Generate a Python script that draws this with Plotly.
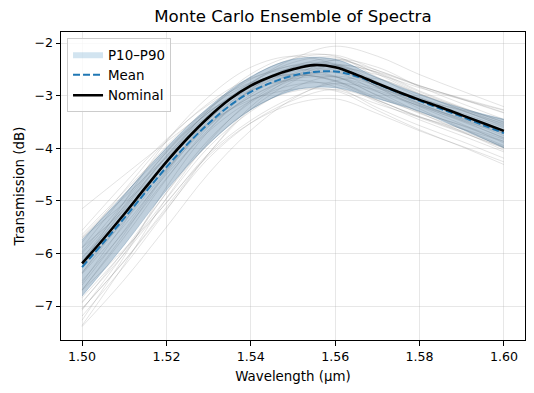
import plotly.graph_objects as go

# ---------------- data ----------------
wl11 = [1.50, 1.51, 1.52, 1.53, 1.54, 1.55, 1.56, 1.57, 1.58, 1.59, 1.60]
wl21 = [1.500, 1.505, 1.510, 1.515, 1.520, 1.525, 1.530, 1.535, 1.540, 1.545, 1.550,
        1.555, 1.560, 1.565, 1.570, 1.575, 1.580, 1.585, 1.590, 1.595, 1.600]

nominal = [-6.19, -5.73, -5.25, -4.75, -4.26, -3.81, -3.41, -3.07, -2.81, -2.63, -2.50,
           -2.42, -2.46, -2.60, -2.77, -2.93, -3.08, -3.22, -3.37, -3.52, -3.67]
mean = [-6.26, -5.80, -5.33, -4.84, -4.36, -3.92, -3.53, -3.19, -2.93, -2.75, -2.62,
        -2.55, -2.54, -2.63, -2.78, -2.94, -3.10, -3.25, -3.40, -3.56, -3.71]

p90 = [-5.74, -4.88, -3.99, -3.22, -2.64, -2.31, -2.31, -2.66, -2.98, -3.24, -3.45]
p10 = [-6.81, -5.84, -4.80, -3.92, -3.27, -2.90, -2.85, -3.06, -3.30, -3.64, -3.99]

ensemble = [
    [-5.79, -4.80, -3.86, -3.14, -2.67, -2.50, -2.63, -2.99, -3.30, -3.57, -3.87],
    [-6.84, -5.95, -4.96, -3.98, -3.30, -2.85, -2.63, -2.82, -3.15, -3.44, -3.72],
    [-6.52, -5.58, -4.57, -3.64, -2.98, -2.58, -2.43, -2.66, -2.97, -3.23, -3.50],
    [-5.97, -5.02, -4.08, -3.32, -2.80, -2.58, -2.64, -3.00, -3.34, -3.63, -3.95],
    [-6.14, -5.17, -4.15, -3.28, -2.65, -2.30, -2.23, -2.52, -2.81, -3.06, -3.32],
    [-6.39, -5.47, -4.50, -3.68, -3.10, -2.80, -2.78, -3.12, -3.46, -3.76, -4.07],
    [-6.25, -5.39, -4.42, -3.43, -2.76, -2.30, -2.06, -2.25, -2.60, -2.91, -3.21],
    [-6.92, -6.01, -5.03, -4.14, -3.52, -3.16, -3.06, -3.34, -3.67, -3.96, -4.26],
    [-5.15, -4.51, -3.88, -3.29, -2.89, -2.68, -2.65, -2.86, -3.08, -3.27, -3.46],
    [-7.39, -6.50, -5.50, -4.48, -3.66, -3.06, -2.72, -2.68, -2.97, -3.28, -3.57],
    [-6.70, -5.63, -4.47, -3.52, -2.83, -2.46, -2.41, -2.78, -3.15, -3.47, -3.81],
    [-5.68, -4.87, -4.05, -3.32, -2.81, -2.54, -2.51, -2.78, -3.05, -3.29, -3.53],
    [-6.69, -5.69, -4.59, -3.59, -2.88, -2.45, -2.30, -2.57, -2.93, -3.24, -3.55],
    [-6.17, -5.14, -4.14, -3.36, -2.83, -2.61, -2.71, -3.08, -3.40, -3.69, -4.00],
    [-7.05, -6.14, -5.12, -4.10, -3.26, -2.73, -2.42, -2.56, -2.91, -3.22, -3.51],
    [-5.89, -4.90, -3.96, -3.24, -2.77, -2.60, -2.73, -3.09, -3.40, -3.67, -3.97],
    [-6.56, -5.42, -4.23, -3.27, -2.59, -2.25, -2.25, -2.65, -3.03, -3.36, -3.71],
    [-5.70, -4.93, -4.18, -3.52, -3.08, -2.88, -2.89, -3.16, -3.41, -3.63, -3.87],
    [-6.07, -5.27, -4.39, -3.51, -2.91, -2.52, -2.33, -2.52, -2.81, -3.07, -3.33],
    [-7.37, -6.21, -4.95, -3.88, -3.10, -2.66, -2.56, -2.92, -3.32, -3.68, -4.04],
    [-6.37, -5.35, -4.28, -3.39, -2.75, -2.42, -2.39, -2.74, -3.09, -3.39, -3.70],
    [-5.71, -5.04, -4.32, -3.55, -3.02, -2.67, -2.48, -2.60, -2.85, -3.07, -3.28],
    [-6.20, -5.02, -3.87, -3.02, -2.46, -2.25, -2.41, -2.84, -3.21, -3.54, -3.90],
    [-6.70, -5.92, -5.04, -4.10, -3.47, -3.03, -2.77, -2.90, -3.20, -3.47, -3.72],
    [-7.27, -6.06, -4.74, -3.67, -2.89, -2.47, -2.42, -2.84, -3.25, -3.62, -3.99],
    [-5.64, -4.82, -4.01, -3.32, -2.85, -2.63, -2.64, -2.93, -3.19, -3.43, -3.68],
    [-7.19, -6.24, -5.18, -4.10, -3.21, -2.65, -2.32, -2.46, -2.83, -3.15, -3.45],
    [-6.37, -5.29, -4.24, -3.44, -2.91, -2.71, -2.83, -3.23, -3.57, -3.87, -4.19],
    [-6.00, -5.11, -4.17, -3.37, -2.80, -2.50, -2.46, -2.76, -3.07, -3.33, -3.61],
    [-6.94, -5.94, -4.84, -3.84, -3.13, -2.70, -2.55, -2.82, -3.18, -3.49, -3.80],
    [-6.10, -5.09, -4.07, -3.25, -2.69, -2.43, -2.47, -2.83, -3.16, -3.45, -3.76],
    [-7.05, -6.15, -5.16, -4.19, -3.52, -3.09, -2.88, -3.09, -3.42, -3.70, -3.99],
    [-6.60, -5.56, -4.44, -3.47, -2.77, -2.37, -2.27, -2.59, -2.96, -3.27, -3.59],
    [-5.56, -4.67, -3.83, -3.17, -2.75, -2.60, -2.72, -3.04, -3.32, -3.56, -3.83],
    [-7.08, -6.00, -4.85, -3.92, -3.26, -2.92, -2.91, -3.28, -3.65, -3.97, -4.31],
    [-5.89, -5.18, -4.41, -3.58, -3.02, -2.64, -2.42, -2.55, -2.82, -3.05, -3.27],
]

title = "Monte Carlo Ensemble of Spectra"
x_label = "Wavelength (μm)"
y_label = "Transmission (dB)"
x_ticks = [1.50, 1.52, 1.54, 1.56, 1.58, 1.60]
y_ticks = [-7, -6, -5, -4, -3, -2]

# ---------------- figure ----------------
FONT = "DejaVu Sans"
fig = go.Figure()

for ys in ensemble:
    fig.add_trace(go.Scatter(
        x=wl11, y=ys, mode="lines",
        line=dict(color="rgba(128,128,128,0.22)", width=1, shape="spline"),
        showlegend=False, hoverinfo="skip"))

# percentile band (drawn over the ensemble)
fig.add_trace(go.Scatter(
    x=wl11, y=p10, mode="lines",
    line=dict(color="rgba(60,110,150,0.35)", width=0.8, shape="spline"),
    showlegend=False, hoverinfo="skip"))
fig.add_trace(go.Scatter(
    x=wl11, y=p90, mode="lines", fill="tonexty",
    fillcolor="rgba(60,110,150,0.33)",
    line=dict(color="rgba(60,110,150,0.35)", width=0.8, shape="spline"),
    showlegend=False, hoverinfo="skip"))
# legend swatch for the band
fig.add_trace(go.Scatter(
    x=[None], y=[None], mode="lines", fill="toself",
    fillcolor="rgba(31,119,180,0.2)",
    line=dict(color="rgba(31,119,180,0.2)", width=0),
    name="P10–P90"))

fig.add_trace(go.Scatter(
    x=wl21, y=mean, mode="lines", name="Mean",
    line=dict(color="#1f77b4", width=2, dash="7px,3px", shape="spline")))
fig.add_trace(go.Scatter(
    x=wl21, y=nominal, mode="lines", name="Nominal",
    line=dict(color="black", width=2.6, shape="spline")))

axis_common = dict(
    showline=True, linecolor="black", linewidth=1, mirror=True,
    ticks="outside", ticklen=4.5, tickwidth=1, tickcolor="black",
    showgrid=True, gridcolor="rgba(176,176,176,0.3)", gridwidth=0.8,
    zeroline=False, automargin=False,
    tickfont=dict(family=FONT, size=12.6, color="black"),
)

fig.update_layout(
    width=534, height=393,
    margin=dict(l=61, r=9, t=32, b=53),
    paper_bgcolor="white", plot_bgcolor="white",
    title=dict(text=title, x=0.5485, xanchor="center", y=0.958, yanchor="middle",
               font=dict(family=FONT, size=16.6, color="black")),
    xaxis=dict(range=[1.495, 1.605], tickvals=x_ticks, tickformat=".2f",
               title=dict(text=x_label, font=dict(family=FONT, size=13.4, color="black"),
                          standoff=8),
               **axis_common),
    yaxis=dict(range=[-7.646, -1.79], tickvals=y_ticks,
               title=dict(text=y_label, font=dict(family=FONT, size=13.4, color="black"),
                          standoff=6),
               **axis_common),
    legend=dict(x=0.013, y=0.98, xanchor="left", yanchor="top",
                traceorder="normal",
                bgcolor="rgba(255,255,255,0.8)", bordercolor="#cccccc", borderwidth=1,
                font=dict(family=FONT, size=13.4, color="black"),
                tracegroupgap=0, itemwidth=30),
    showlegend=True,
)

fig.write_html(
    "out.html",
    config={"displayModeBar": False},
    post_script="document.body.style.margin='0';document.body.style.overflow='hidden';",
)
